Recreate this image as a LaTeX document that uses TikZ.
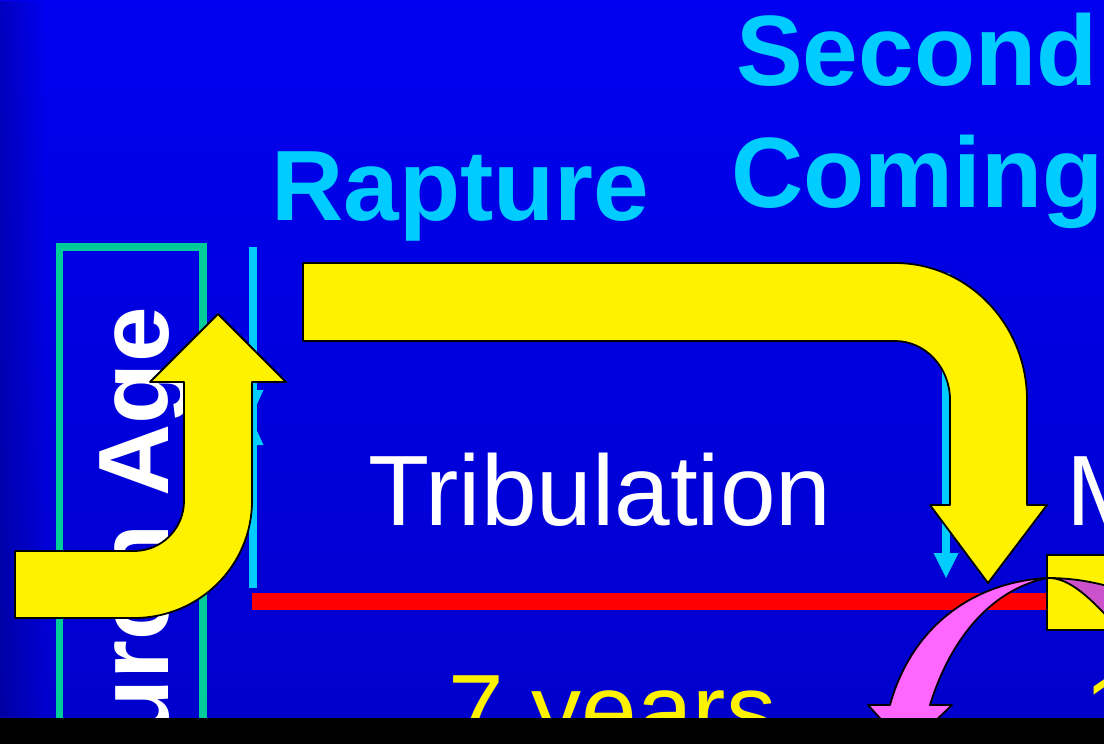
\documentclass[tikz,border=0pt]{standalone}
\usepackage{fontspec}
\setmainfont{Liberation Sans}
\usetikzlibrary{fadings}
\definecolor{slidetop}{RGB}{0,0,240}
\definecolor{slidebot}{RGB}{0,0,204}
\definecolor{skycyan}{RGB}{0,204,255}
\definecolor{agegreen}{RGB}{0,204,153}
\definecolor{arrowpink}{RGB}{255,102,255}
\definecolor{arrowback}{RGB}{204,82,204}
\begin{document}
\begin{tikzpicture}[line cap=butt,line join=round,x=1pt,y=-1pt,
  txt/.style={inner sep=0pt,font=\fontsize{100}{110}\selectfont},
  boldtxt/.style={inner sep=0pt,font=\fontsize{100}{110}\selectfont\bfseries},
  outline/.style={draw=black,line width=1.8pt}]
\useasboundingbox (0,0) rectangle (1104,744);
\clip (0,0) rectangle (1104,744);
% slide background
\shade[top color=slidetop,bottom color=slidebot] (0,0) rectangle (1104,744);
\fill[black,opacity=0.2,path fading=east] (0,0) rectangle (45,744);
% church age box
\draw[agegreen,line width=7.5pt,line join=miter] (59.5,780) -- (59.5,247) -- (203,247) -- (203,780);
\node[boldtxt,text=white,rotate=90,anchor=base east] (church) at (168,307) {Church Age};
% time markers
\draw[skycyan,line width=8pt] (252.5,247) -- (252.5,588);
\fill[skycyan] (241.5,390) -- (263.5,390) -- (252.5,414) -- cycle;
\fill[skycyan] (241.5,445) -- (263.5,445) -- (252.5,421) -- cycle;
\draw[skycyan,line width=8pt] (946,273) -- (946,554);
\fill[skycyan] (933.5,553) -- (958.5,553) -- (946,578) -- cycle;
\draw[red,line width=17pt] (252,601.5) -- (1050,601.5);
% labels
\node[boldtxt,text=skycyan,anchor=base west] (rapture) at (271,220) {Rapture};
\node[boldtxt,text=skycyan,anchor=base west] (second) at (736,85) {Second};
\node[boldtxt,text=skycyan,anchor=base west] (coming) at (731,207) {Coming};
\node[txt,text=white,anchor=base west] (trib) at (368,525) {Tribulation};
\node[txt,text=white,anchor=base west] (mill) at (1066,525) {M};
\node[txt,text=yellow,anchor=base west] (seven) at (448,744) {7 years};
\node[txt,text=yellow,anchor=base west] (thousand) at (1084,744) {1};
% yellow block arrows
\filldraw[fill=yellow,outline] (1047,555) rectangle (1130,630);
\filldraw[fill=yellow,outline] (303,263) -- (895,263)
  arc[start angle=-90,end angle=0,x radius=132,y radius=137] -- (1027,505)
  -- (1047,505) -- (988,583) -- (930,505) -- (950,505) -- (950,400)
  arc[start angle=0,end angle=-90,x radius=55,y radius=59] -- (303,341) -- cycle;
\filldraw[fill=yellow,outline] (15,551) -- (134,551)
  arc[start angle=90,end angle=0,radius=50] -- (184,382) -- (150,382)
  -- (218,314) -- (286,382) -- (252,382) -- (252,501)
  arc[start angle=0,end angle=90,x radius=118,y radius=117] -- (15,618) -- cycle;
% pink curved arrow
\filldraw[fill=arrowback,outline] (1047,578) .. controls (1070,578) and (1090,581) .. (1115,588)
  -- (1115,625) .. controls (1092,600) and (1070,577) .. (1047,578) -- cycle;
\filldraw[fill=arrowpink,outline] (930,705) .. controls (950,640) and (990,590) .. (1047,578)
  .. controls (975,582) and (912,625) .. (890,705) -- (868,705) -- (907,748)
  -- (952,705) -- cycle;
% bottom strip
\fill[black] (0,718) rectangle (1104,744);
\end{tikzpicture}
\end{document}
